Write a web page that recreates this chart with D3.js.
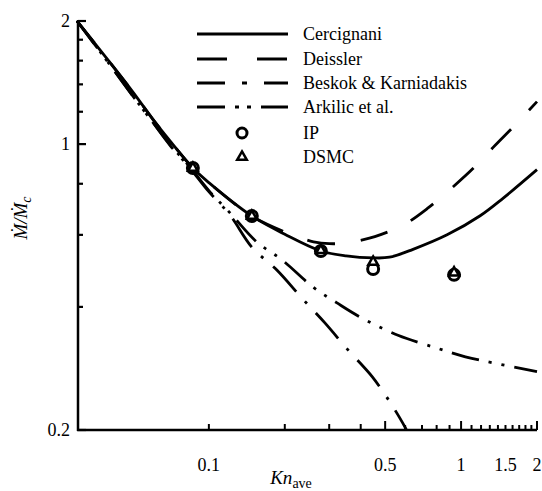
<!DOCTYPE html>
<html>
<head>
<meta charset="utf-8">
<script src="https://cdn.jsdelivr.net/npm/d3@7/dist/d3.min.js"></script>
<style>
  body { margin: 0; background: #fff; }
  svg { display: block; }
</style>
</head>
<body>
<div id="chart"></div>
<script>
// Normalised mass flow rate vs average Knudsen number (log-log)
const cercignani = [
  [0.03, 2.0], [0.04, 1.6], [0.05, 1.34], [0.06, 1.15], [0.07, 1.02],
  [0.0864, 0.874], [0.1, 0.805], [0.148, 0.667], [0.2, 0.602], [0.278, 0.548],
  [0.35, 0.533], [0.45, 0.527], [0.52, 0.529], [0.645, 0.553], [0.88, 0.60],
  [1.19, 0.668], [1.47, 0.738], [2.0, 0.866]
];
const deissler = [
  [0.03, 2.0], [0.04, 1.6], [0.05, 1.34], [0.06, 1.15], [0.07, 1.02],
  [0.0864, 0.874], [0.1, 0.805], [0.148, 0.667], [0.2, 0.61], [0.23, 0.59],
  [0.26, 0.577], [0.3, 0.571], [0.35, 0.573], [0.4, 0.582], [0.455, 0.594],
  [0.59, 0.634], [0.74, 0.698], [0.92, 0.782], [1.12, 0.874], [1.34, 0.982],
  [1.64, 1.115], [2.0, 1.27]
];
const beskok = [
  [0.03, 2.0], [0.04, 1.58], [0.05, 1.31], [0.06, 1.13], [0.07, 1.0],
  [0.084, 0.88], [0.1, 0.77], [0.121, 0.68], [0.155, 0.576], [0.195, 0.521],
  [0.259, 0.447], [0.322, 0.409], [0.397, 0.378], [0.562, 0.341], [0.803, 0.317],
  [1.04, 0.302], [1.33, 0.292], [2.0, 0.278]
];
const arkilic = [
  [0.03, 2.0], [0.04, 1.58], [0.05, 1.31], [0.06, 1.13], [0.07, 0.995],
  [0.084, 0.875], [0.1, 0.765], [0.121, 0.672], [0.148, 0.56], [0.186, 0.492],
  [0.234, 0.42], [0.289, 0.365], [0.356, 0.314], [0.444, 0.27], [0.532, 0.23],
  [0.60, 0.203], [0.607, 0.2]
];
const ipPoints = [[0.0864, 0.874], [0.148, 0.667], [0.278, 0.548], [0.448, 0.495], [0.938, 0.479]];
const dsmcPoints = [[0.0864, 0.874], [0.148, 0.667], [0.278, 0.55], [0.448, 0.515], [0.938, 0.485]];

const xTickMarks = [0.1, 0.2, 0.3, 0.4, 0.5, 0.6, 0.7, 0.8, 0.9, 1, 1.1, 1.2, 1.3, 1.4, 1.5, 1.6, 1.7, 1.8, 1.9, 2];
const xTickLabels = [0.1, 0.5, 1, 1.5, 2];
const yTickMarks = [0.2, 0.4, 0.6, 0.8, 1, 1.2, 1.4, 1.6, 1.8, 2];
const yTickLabels = [0.2, 1, 2];

const legendNames = ['Cercignani', 'Deissler', 'Beskok & Karniadakis', 'Arkilic et al.', 'IP', 'DSMC'];

const width = 542;
const height = 491;
const serif = "'Liberation Serif', 'DejaVu Serif', 'Times New Roman', serif";

const x = d3.scaleLog().domain([0.03, 2]).range([77, 537]);
const y = d3.scaleLog().domain([0.2, 2]).range([430, 21]);

const svg = d3.select('#chart').append('svg')
  .attr('width', width)
  .attr('height', height)
  .attr('font-family', serif);

// axes
const x0 = x(0.03) + 1;
const y0 = y(0.2);
svg.append('line')
  .attr('x1', x0).attr('x2', x0)
  .attr('y1', y(2) - 1).attr('y2', y0 + 1)
  .attr('stroke', '#000').attr('stroke-width', 2.5);
svg.append('line')
  .attr('x1', x0 - 1).attr('x2', x(2))
  .attr('y1', y0).attr('y2', y0)
  .attr('stroke', '#000').attr('stroke-width', 2.5);

svg.selectAll('.ytick')
  .data(yTickMarks)
  .enter().append('line')
  .attr('class', 'ytick')
  .attr('x1', x0)
  .attr('x2', (d) => x0 + (yTickLabels.includes(d) ? 8 : 5))
  .attr('y1', (d) => y(d)).attr('y2', (d) => y(d))
  .attr('stroke', '#000').attr('stroke-width', 2.2);

svg.selectAll('.xtick')
  .data(xTickMarks)
  .enter().append('line')
  .attr('class', 'xtick')
  .attr('x1', (d) => x(d)).attr('x2', (d) => x(d))
  .attr('y1', y0)
  .attr('y2', (d) => {
    if (d === 0.5 || d === 1 || d === 2) return y0 - 9;
    if (d <= 0.5) return y0 - 6;
    return y0 - 5;
  })
  .attr('stroke', '#000').attr('stroke-width', 2);

svg.selectAll('.ylab')
  .data(yTickLabels)
  .enter().append('text')
  .attr('x', 70)
  .attr('y', (d) => y(d) + 6)
  .attr('text-anchor', 'end')
  .attr('font-size', 18)
  .text((d) => d);

svg.selectAll('.xlab')
  .data(xTickLabels)
  .enter().append('text')
  .attr('x', (d) => x(d))
  .attr('y', 471)
  .attr('text-anchor', 'middle')
  .attr('font-size', 18)
  .text((d) => d);

// axis titles
const xt = svg.append('text')
  .attr('x', 291).attr('y', 484)
  .attr('text-anchor', 'middle')
  .attr('font-size', 19);
xt.append('tspan').attr('font-style', 'italic').text('Kn');
xt.append('tspan').attr('font-size', 14).attr('dy', 4).text('ave');

const yt = svg.append('text')
  .attr('transform', 'translate(27,218) rotate(-90)')
  .attr('text-anchor', 'middle')
  .attr('font-size', 19)
  .attr('font-style', 'italic');
yt.append('tspan').text('\u1E40/\u1E40');
yt.append('tspan').attr('font-size', 14).attr('dy', 4).text('c');

// curves
const line = d3.line()
  .x((d) => x(d[0]))
  .y((d) => y(d[1]))
  .curve(d3.curveCatmullRom.alpha(0.5));

const series = [
  { data: cercignani, dash: null },
  { data: deissler, dash: '28,26' },
  { data: beskok, dash: '28,10,3,10,3,10' },
  { data: arkilic, dash: '34,13,3,13' },
];

svg.selectAll('.curve')
  .data(series)
  .enter().append('path')
  .attr('class', 'curve')
  .attr('d', (d) => line(d.data))
  .attr('fill', 'none')
  .attr('stroke', '#000')
  .attr('stroke-width', 2.8)
  .attr('stroke-dasharray', (d) => d.dash);

// symbols
const tri = d3.symbol().type(d3.symbolTriangle).size(40);
svg.selectAll('.ip')
  .data(ipPoints)
  .enter().append('circle')
  .attr('cx', (d) => x(d[0]))
  .attr('cy', (d) => y(d[1]))
  .attr('r', 5.5)
  .attr('fill', 'none')
  .attr('stroke', '#000')
  .attr('stroke-width', 3);
svg.selectAll('.dsmc')
  .data(dsmcPoints)
  .enter().append('path')
  .attr('transform', (d) => `translate(${x(d[0])},${y(d[1])})`)
  .attr('d', tri)
  .attr('fill', '#fff')
  .attr('stroke', '#000')
  .attr('stroke-width', 2.5);

// legend
const legendDash = [null, '30,30', '28,17,5,17', '28,10,4,8,4,10'];
const legendRowY = [34, 59, 83, 107, 133, 157];
const lg = svg.append('g');
legendNames.forEach((name, i) => {
  const ly = legendRowY[i];
  if (i < 4) {
    lg.append('line')
      .attr('x1', 197).attr('x2', 288)
      .attr('y1', ly).attr('y2', ly)
      .attr('stroke', '#000')
      .attr('stroke-width', 3)
      .attr('stroke-dasharray', legendDash[i]);
  }
  else if (i === 4) {
    lg.append('circle')
      .attr('cx', 242).attr('cy', ly).attr('r', 5)
      .attr('fill', 'none').attr('stroke', '#000').attr('stroke-width', 3);
  }
  else {
    lg.append('path')
      .attr('transform', `translate(242,${ly})`)
      .attr('d', tri)
      .attr('fill', '#fff').attr('stroke', '#000').attr('stroke-width', 2.5);
  }
  lg.append('text')
    .attr('x', 303).attr('y', ly + 6)
    .attr('font-size', 18)
    .text(name);
});
</script>
</body>
</html>
